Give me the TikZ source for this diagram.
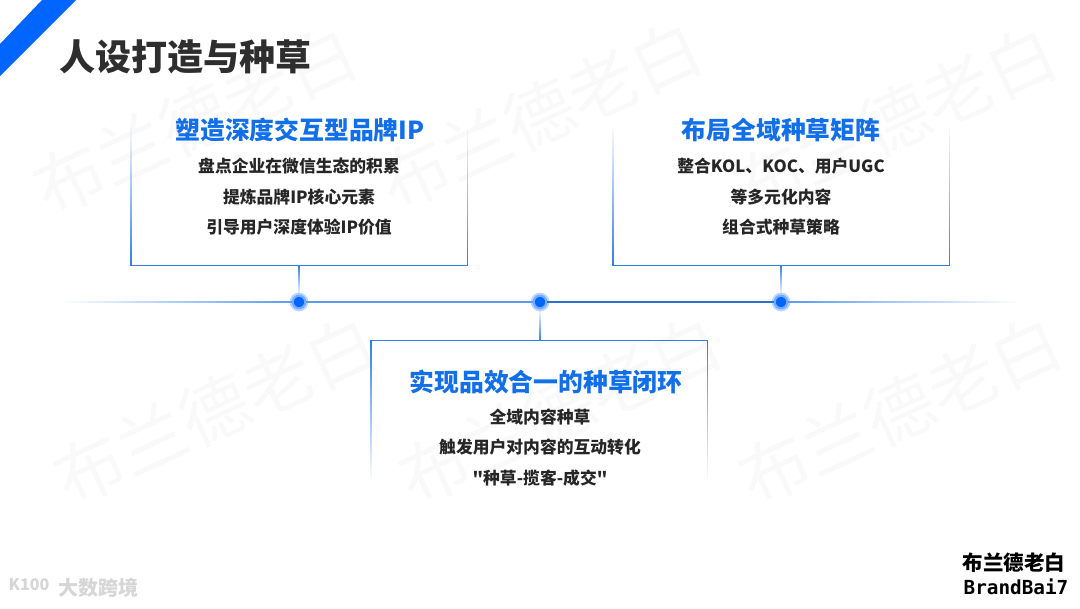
\documentclass[tikz,border=0pt]{standalone}
\usepackage{fontspec}
\usepackage{tikz}
\usetikzlibrary{calc,fadings}
\newfontfamily\cjk{Noto Sans CJK SC}
\setmonofont{DejaVu Sans Mono}
\definecolor{bandblue}{HTML}{0066FF}
\definecolor{headblue}{HTML}{126FEA}
\definecolor{boxblue}{HTML}{2F7DE6}
\definecolor{axisblue}{HTML}{5C9AF2}
\definecolor{darktext}{HTML}{262626}
\definecolor{marktext}{HTML}{F9F9F9}
\tikzset{
    headtext/.style={font=\cjk\bfseries\fontsize{18.6}{22}\selectfont,text=headblue,inner sep=0},
    bodytext/.style={font=\cjk\bfseries\fontsize{12.6}{15}\selectfont,text=darktext,inner sep=0},
    boxframe/.style={minimum width=252pt,inner sep=0},
    frameline/.style={draw=boxblue,line width=1.1pt},
    stemline/.style={draw=boxblue,line width=0.8pt},
    axisline/.style={draw=axisblue,line width=1.4pt},
    dotnode/.style={circle,fill=bandblue,minimum size=9.4pt,inner sep=0,line width=1.6pt,draw=bandblue!55!white,
        preaction={draw=bandblue!28!white,line width=4.6pt}},
    marknode/.style={font=\cjk\fontsize{52}{52}\selectfont,text=marktext,rotate=25,inner sep=0},
    logotext/.style={font=\cjk\bfseries\fontsize{15}{15}\selectfont,text=black!16,inner sep=0}
}
\begin{document}
\begin{tikzpicture}[x=0.75pt,y=-0.75pt]
    \useasboundingbox (0,0) rectangle (1080,608);
    % watermark
    \foreach \i/\x/\y in {1/195/120,2/540/115,3/895/120,4/215/410,5/560/410,6/900/410}{
        \node[marknode] (mark\i) at (\x,\y) {布兰德老白};
    }
    % corner band and title
    \fill[bandblue] (42,0)--(76,0)--(0,76)--(0,44)--cycle;
    \node[font=\cjk\bfseries\fontsize{27}{30}\selectfont,text=black!82,inner sep=0] (title) at (185,57) {人设打造与种草};
    % boxes
    \node[boxframe,minimum height=105pt] (leftbox) at (299.5,195) {};
    \node[boxframe,minimum height=105pt] (rightbox) at (781.5,195) {};
    \node[boxframe,minimum height=105pt] (midbox) at (539.5,411) {};
    \draw[frameline,path fading=north] (leftbox.north west)--(leftbox.south west)--(leftbox.south east)--(leftbox.north east);
    \draw[frameline,path fading=north] (rightbox.north west)--(rightbox.south west)--(rightbox.south east)--(rightbox.north east);
    \draw[frameline,path fading=south] (midbox.south west)--(midbox.north west)--(midbox.north east)--(midbox.south east);
    % axis
    \coordinate (axisstart) at (60,302);
    \coordinate (axisend) at (1020,302);
    \node[dotnode] (dota) at (299,302) {};
    \node[dotnode] (dotb) at (540,302) {};
    \node[dotnode] (dotc) at (781,302) {};
    \draw[axisline,path fading=west] ($(axisstart)+(0,-3)$) ($(axisstart)+(0,3)$) (axisstart)--(dota);
    \draw[axisline] (dota)--(dotb);
    \draw[axisline,draw=boxblue!90!black] (dotb)--(dotc);
    \draw[axisline,path fading=east] ($(axisend)+(0,-3)$) ($(axisend)+(0,3)$) (dotc)--(axisend);
    \draw[stemline,path fading=south] ($(dota|-leftbox.south)+(-3,0)$) ($(dota|-leftbox.south)+(3,0)$) (dota|-leftbox.south)--(dota);
    \draw[stemline,path fading=south] ($(dotc|-rightbox.south)+(-3,0)$) ($(dotc|-rightbox.south)+(3,0)$) (dotc|-rightbox.south)--(dotc);
    \draw[stemline,path fading=north] ($(dotb|-midbox.north)+(-3,0)$) ($(dotb|-midbox.north)+(3,0)$) (dotb)--(dotb|-midbox.north);
    % texts
    \node[headtext] (lefthead) at (300,130) {塑造深度交互型品牌IP};
    \node[bodytext] (lefta) at (299,166) {盘点企业在微信生态的积累};
    \node[bodytext] (leftb) at (299,197) {提炼品牌IP核心元素};
    \node[bodytext] (leftc) at (299,227) {引导用户深度体验IP价值};
    \node[headtext] (righthead) at (781,130) {布局全域种草矩阵};
    \node[bodytext] (righta) at (781,166) {整合KOL、KOC、用户UGC};
    \node[bodytext] (rightb) at (781,197) {等多元化内容};
    \node[bodytext] (rightc) at (781,227) {组合式种草策略};
    \node[headtext] (midhead) at (546,382) {实现品效合一的种草闭环};
    \node[bodytext] (mida) at (540,417) {全域内容种草};
    \node[bodytext] (midb) at (540,447) {触发用户对内容的互动转化};
    \node[bodytext] (midc) at (540,478) {"种草-揽客-成交"};
    % logos
    \node[font=\cjk\bfseries\fontsize{15.4}{16}\selectfont,text=black,inner sep=0] (brandcn) at (1014,563) {布兰德老白};
    \node[font=\ttfamily\bfseries\fontsize{14.5}{15}\selectfont,text=black,inner sep=0] (branden) at (1016,587) {BrandBai7};
    \node[logotext,font=\cjk\bfseries\fontsize{12}{12}\selectfont] (klogo) at (29,585) {K100};
    \node[logotext] (sitelogo) at (98,588) {大数跨境};
\end{tikzpicture}
\end{document}
